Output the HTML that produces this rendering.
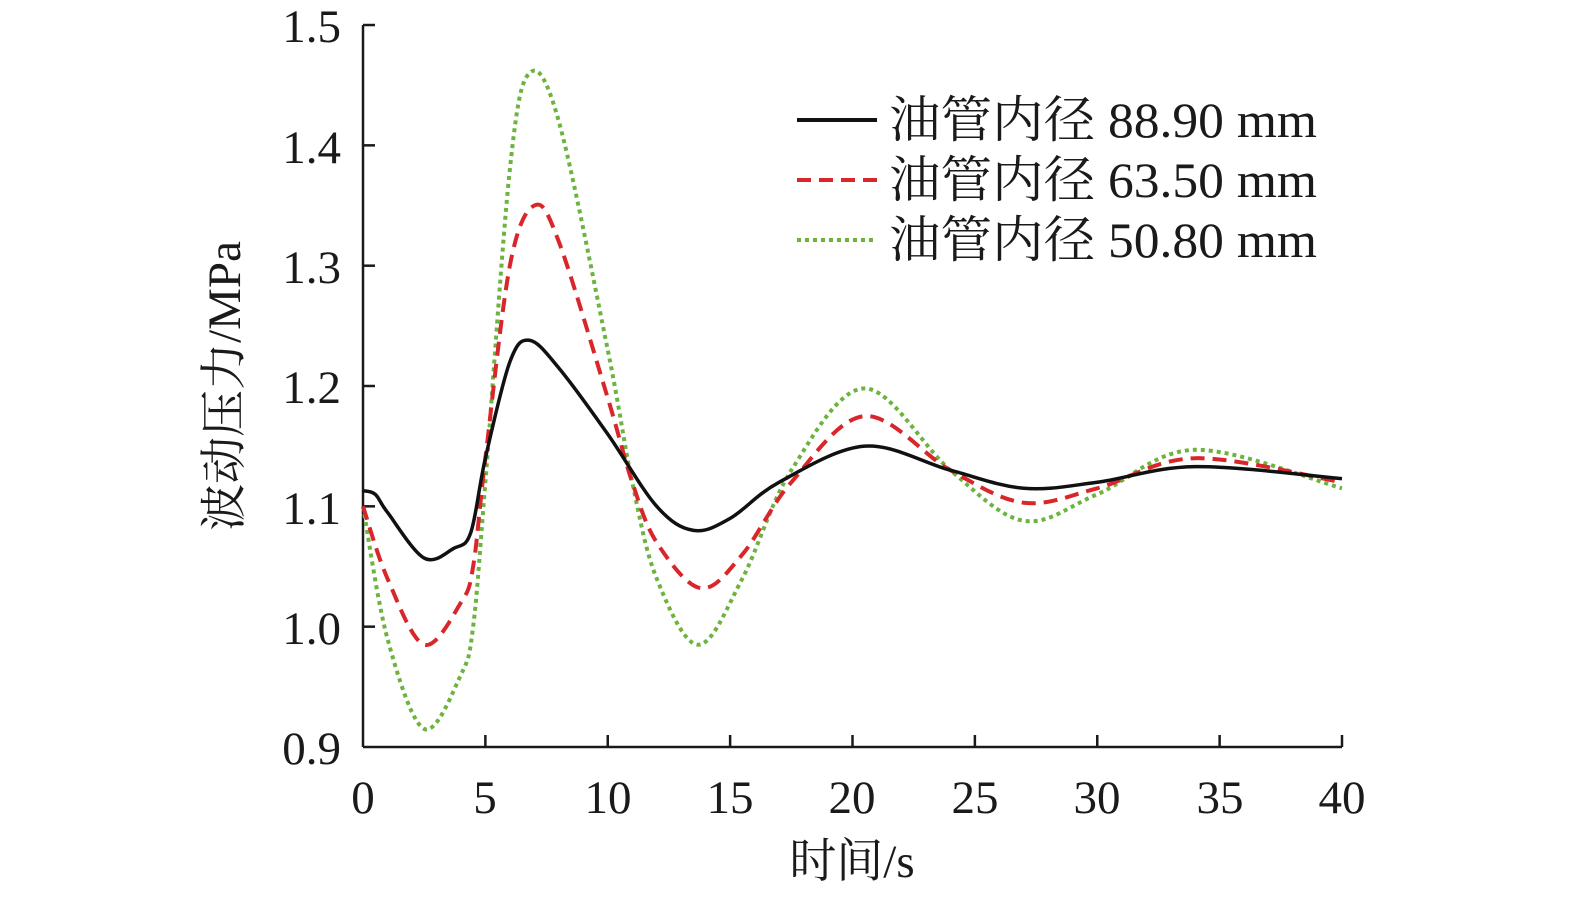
<!DOCTYPE html>
<html><head><meta charset="utf-8"><style>
html,body{margin:0;padding:0;background:#fff;}
svg text{font-family:"Liberation Serif","Noto Serif CJK SC",serif;fill:#1a1a1a;}
</style></head><body>
<svg id="s" width="1575" height="900" xmlns="http://www.w3.org/2000/svg">
<g stroke="#1a1a1a" stroke-width="2.5" fill="none">
<line x1="363" y1="25" x2="363" y2="747"/>
<line x1="363" y1="747" x2="1342" y2="747"/>
</g>
<g id="ticks" stroke="#1a1a1a" stroke-width="2.5"></g>
<g font-size="47" text-anchor="end">
<text x="341" y="42">1.5</text><text x="341" y="163">1.4</text><text x="341" y="283">1.3</text>
<text x="341" y="403">1.2</text><text x="341" y="524">1.1</text><text x="341" y="644">1.0</text>
<text x="341" y="764">0.9</text>
</g>
<g font-size="47" text-anchor="middle">
<text x="363" y="813">0</text><text x="485" y="813">5</text><text x="608" y="813">10</text>
<text x="730" y="813">15</text><text x="852" y="813">20</text><text x="975" y="813">25</text>
<text x="1097" y="813">30</text><text x="1220" y="813">35</text><text x="1342" y="813">40</text>
<text x="852" y="877">时间/s</text>
</g>
<text font-size="47" text-anchor="middle" transform="translate(240,386) rotate(-90)">波动压力/MPa</text>
<g id="curves" fill="none" stroke-width="4"></g>
<g stroke-width="4">
<line x1="797" y1="120" x2="877" y2="120" stroke="#111"/>
<line x1="797" y1="180" x2="877" y2="180" stroke="#d9262a" stroke-dasharray="14,8"/>
<line x1="797" y1="240" x2="877" y2="240" stroke="#6cb33f" stroke-dasharray="4,4"/>
</g>
<g font-size="50" textLength="428">
<text x="889" y="137" textLength="428" lengthAdjust="spacingAndGlyphs">油管内径 88.90 mm</text>
<text x="889" y="197" textLength="428" lengthAdjust="spacingAndGlyphs">油管内径 63.50 mm</text>
<text x="889" y="257" textLength="428" lengthAdjust="spacingAndGlyphs">油管内径 50.80 mm</text>
</g>
</svg>
<script>
const X=t=>363+t*24.475, Y=v=>747-(v-0.9)*1203.3;
let tk="";
for(let i=1;i<=8;i++){const x=X(i*5);tk+=`<line x1="${x}" y1="747" x2="${x}" y2="735"/>`;}
for(let i=1;i<=6;i++){const y=Y(0.9+i*0.1);tk+=`<line x1="363" y1="${y}" x2="375" y2="${y}"/>`;}
document.getElementById("ticks").innerHTML=tk;
function path(p){
 const q=p.map(a=>[X(a[0]),Y(a[1])]);let d=`M${q[0][0]},${q[0][1]}`;
 for(let i=0;i<q.length-1;i++){const p0=q[Math.max(i-1,0)],p1=q[i],p2=q[i+1],p3=q[Math.min(i+2,q.length-1)];
 d+=` C${p1[0]+(p2[0]-p0[0])/6},${p1[1]+(p2[1]-p0[1])/6} ${p2[0]-(p3[0]-p1[0])/6},${p2[1]-(p3[1]-p1[1])/6} ${p2[0]},${p2[1]}`;}
 return d;}
const B=[[0,1.113],[0.5,1.11],[1,1.095],[2.5,1.057],[3.7,1.065],[4.4,1.078],[5,1.14],[6,1.22],[6.8,1.238],[8,1.215],[10,1.16],[12,1.10],[13.5,1.08],[15,1.09],[17,1.12],[20.5,1.15],[24,1.13],[27,1.115],[30,1.12],[34,1.133],[40,1.123]];
const R=[[0,1.10],[1,1.04],[2.5,0.985],[4,1.02],[4.5,1.05],[5,1.14],[6,1.30],[7,1.35],[8,1.32],[10,1.19],[11,1.12],[12,1.07],[13.8,1.032],[15.5,1.06],[17.5,1.12],[20.5,1.175],[24,1.13],[27,1.103],[30,1.115],[34,1.14],[40,1.12]];
const G=[[0,1.10],[1,0.99],[2.5,0.915],[4,0.96],[4.5,1.0],[5,1.12],[6,1.38],[6.8,1.46],[8,1.42],[10,1.23],[11,1.12],[12,1.04],[13.7,0.985],[15.5,1.04],[17.5,1.13],[20.5,1.198],[24,1.13],[27,1.088],[30,1.11],[34,1.147],[40,1.115]];
document.getElementById("curves").innerHTML=
`<path d="${path(G)}" stroke="#6cb33f" stroke-dasharray="4,4"/>`+
`<path d="${path(R)}" stroke="#d9262a" stroke-dasharray="14,8"/>`+
`<path d="${path(B)}" stroke="#111" stroke-width="3.5"/>`;
</script>
</body></html>
